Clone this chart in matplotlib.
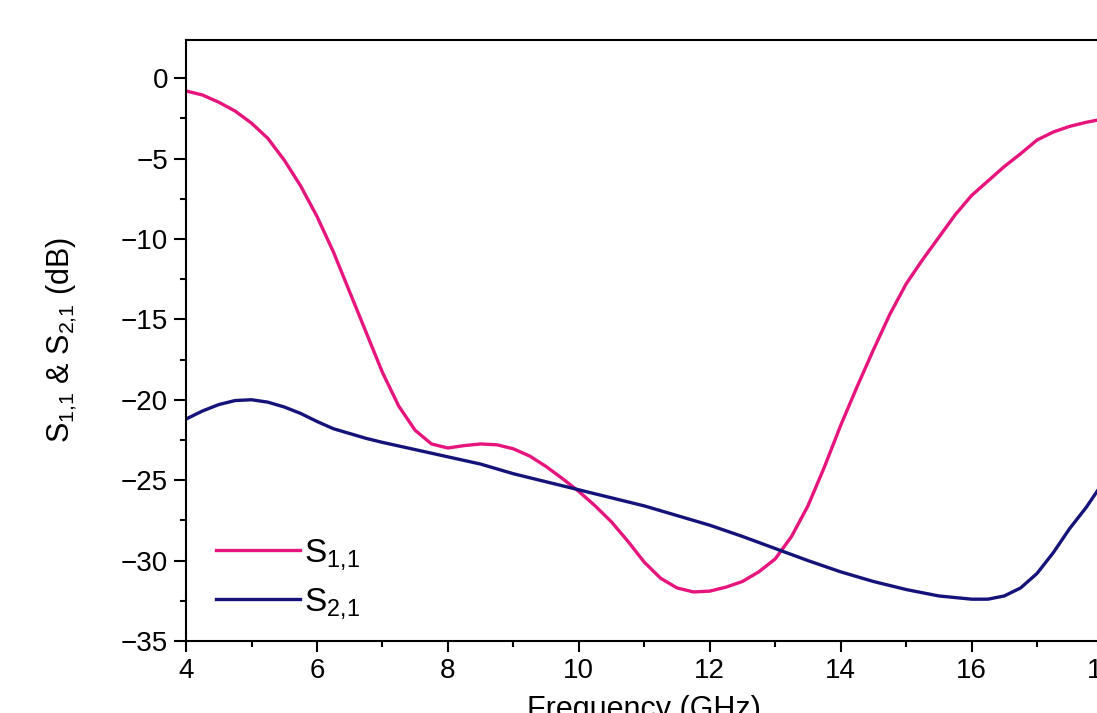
import matplotlib
matplotlib.use("Agg")
import matplotlib.pyplot as plt
from matplotlib.ticker import MultipleLocator

plt.rcParams['font.family'] = ['Liberation Sans', 'DejaVu Sans']
plt.rcParams['mathtext.default'] = 'regular'

# Frequency (GHz)
freq_s11 = [4.0, 4.25, 4.5, 4.75, 5.0, 5.25, 5.5, 5.75, 6.0, 6.25, 6.5, 6.75,
            7.0, 7.25, 7.5, 7.75, 8.0, 8.25, 8.5, 8.75, 9.0, 9.25, 9.5, 9.75,
            10.0, 10.25, 10.5, 10.75, 11.0, 11.25, 11.5, 11.75, 12.0, 12.25,
            12.5, 12.75, 13.0, 13.25, 13.5, 13.75, 14.0, 14.25, 14.5, 14.75,
            15.0, 15.25, 15.5, 15.75, 16.0, 16.25, 16.5, 16.75, 17.0, 17.25,
            17.5, 17.75, 18.0]
s11 = [-0.8, -1.05, -1.5, -2.05, -2.8, -3.75, -5.1, -6.7, -8.6, -10.8, -13.3, -15.8,
       -18.3, -20.4, -21.9, -22.75, -23.0, -22.85, -22.75, -22.8, -23.05, -23.5, -24.15, -24.9,
       -25.7, -26.6, -27.6, -28.8, -30.1, -31.1, -31.7, -31.95, -31.9, -31.65,
       -31.3, -30.7, -29.9, -28.5, -26.6, -24.2, -21.6, -19.2, -16.9, -14.7,
       -12.8, -11.3, -9.9, -8.5, -7.3, -6.4, -5.5, -4.7, -3.85, -3.35,
       -3.0, -2.75, -2.55]

freq_s21 = [4.0, 4.25, 4.5, 4.75, 5.0, 5.25, 5.5, 5.75, 6.0, 6.25, 6.5, 6.75,
            7.0, 7.5, 8.0, 8.5, 9.0, 9.5, 10.0, 10.5, 11.0, 11.5, 12.0, 12.5,
            13.0, 13.5, 14.0, 14.5, 15.0, 15.5, 16.0, 16.25, 16.5, 16.75, 17.0,
            17.25, 17.5, 17.75, 18.0]
s21 = [-21.2, -20.7, -20.3, -20.05, -20.0, -20.15, -20.45, -20.85, -21.35, -21.8, -22.1, -22.4,
       -22.65, -23.1, -23.55, -24.0, -24.6, -25.1, -25.6, -26.1, -26.6, -27.2, -27.8, -28.5,
       -29.25, -30.0, -30.7, -31.3, -31.8, -32.2, -32.4, -32.4, -32.2, -31.7, -30.8,
       -29.5, -28.0, -26.7, -25.2]

labels = [r'S$_{1{,}1}$', r'S$_{2{,}1}$']
colors = ['#E6147D', '#13137A']

fig = plt.figure(figsize=(10.97, 7.13), dpi=100)
ax = fig.add_axes([0.1696, 0.101, 0.8354, 0.8436])

ax.plot(freq_s11, s11, color=colors[0], lw=2.4, label=labels[0],
        solid_joinstyle='round')
ax.plot(freq_s21, s21, color=colors[1], lw=2.4, label=labels[1],
        solid_joinstyle='round')

ax.set_xlim(4, 18)
ax.set_ylim(-35, 2.4)
ax.xaxis.set_major_locator(MultipleLocator(2))
ax.xaxis.set_minor_locator(MultipleLocator(1))
ax.yaxis.set_major_locator(MultipleLocator(5))
ax.yaxis.set_minor_locator(MultipleLocator(2.5))

ax.tick_params(which='major', direction='out', length=8, width=1.5, labelsize=20, pad=4)
ax.tick_params(which='minor', direction='out', length=4, width=1.5)
ax.tick_params(axis='y', which='major', length=9)
ax.tick_params(top=False, right=False)
for sp in ax.spines.values():
    sp.set_linewidth(1.5)

ax.set_xlabel('Frequency (GHz)', fontsize=22, labelpad=8)
ax.set_ylabel(r'S$_{1{,}1}$ & S$_{2{,}1}$ (dB)', fontsize=22, labelpad=30)

ax.legend(loc='upper left', bbox_to_anchor=(0.033, 0.172), frameon=False,
          fontsize=24, handlelength=2.5, handletextpad=0.12, labelspacing=0.4,
          borderpad=0, borderaxespad=0)

fig.savefig('out.png', dpi=100)
